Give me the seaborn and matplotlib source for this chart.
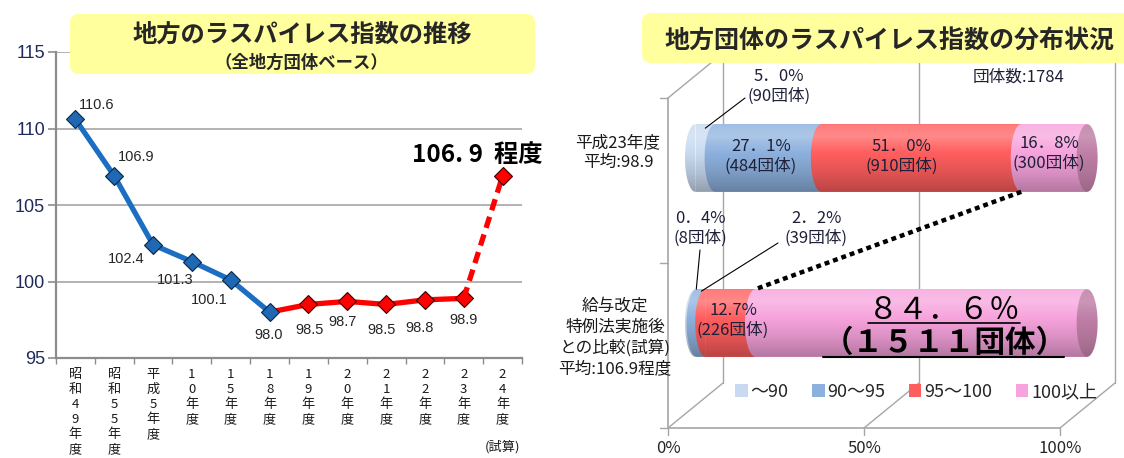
import numpy as np
import matplotlib
matplotlib.use("Agg")
import matplotlib.pyplot as plt
import seaborn as sns
from matplotlib.patches import FancyBboxPatch, Polygon, Ellipse, Patch
from matplotlib.transforms import IdentityTransform

# ---------------- data ----------------
year_ticklabels = ["昭\n和\n4\n9\n年\n度", "昭\n和\n5\n5\n年\n度", "平\n成\n5\n年\n度",
                   "1\n0\n年\n度", "1\n5\n年\n度", "1\n8\n年\n度", "1\n9\n年\n度",
                   "2\n0\n年\n度", "2\n1\n年\n度", "2\n2\n年\n度", "2\n3\n年\n度",
                   "2\n4\n年\n度"]
laspeyres = [110.6, 106.9, 102.4, 101.3, 100.1, 98.0, 98.5, 98.7, 98.5, 98.8, 98.9, 106.9]
y_ticks = [95, 100, 105, 110, 115]

dist_rows = ["平成23年度\n平均:98.9", "給与改定\n特例法実施後\nとの比較(試算)\n平均:106.9程度"]
bands = ["～90", "90～95", "95～100", "100以上"]
share_h23 = [5.0, 27.1, 51.0, 16.8]
count_h23 = [90, 484, 910, 300]
share_after = [0.4, 2.2, 12.7, 84.6]
count_after = [8, 39, 226, 1511]
n_bodies = 1784
axis_pct = [0, 50, 100]

# ---------------- style ----------------
W, H = 1124, 458
sns.set_theme(style="white")
plt.rcParams["font.family"] = ["Noto Sans CJK JP", "DejaVu Sans"]
fig = plt.figure(figsize=(W / 100, H / 100), dpi=100)


def fx(px):
    return px / W


def fy(py):
    return 1 - py / H


BLUE, BLUE_M, RED = "#1B6EC2", "#1F68B3", "#FF0000"
TXT = "#262626"
GRID = "#a6a6a6"

# ================= left chart =================
axL = fig.add_axes([fx(56), fy(358), (522 - 56) / W, (358 - 52) / H])
xs = np.arange(len(laspeyres))
vals = np.array(laspeyres)

sns.lineplot(x=xs[5:11], y=vals[5:11], color=RED, linewidth=3.8, marker="D",
             markersize=9, markerfacecolor=RED, markeredgecolor="#3a0000",
             markeredgewidth=0.8, markevery=[1, 2, 3, 4, 5], ax=axL, zorder=3)
sns.lineplot(x=xs[10:12], y=vals[10:12], color=RED, linewidth=3.8, linestyle="--",
             marker="D", markersize=9, markerfacecolor=RED, markeredgecolor="#3a0000",
             markeredgewidth=0.8, markevery=[1], ax=axL, zorder=3)
axL.lines[-1].set_dashes([2.2, 1.3])
sns.lineplot(x=xs[:6], y=vals[:6], color=BLUE, linewidth=3.8, marker="D",
             markersize=9, markerfacecolor=BLUE_M, markeredgecolor="#0B2645",
             markeredgewidth=0.8, ax=axL, zorder=4)

label_offsets_px = [(21, -14), (22, -19), (-27, 14), (-17, 18), (-21, 20), (-1, 23),
                    (1, 26), (-5, 21), (-5, 26), (-5, 28), (0, 22)]
for i, (dx, dy) in enumerate(label_offsets_px):
    axL.annotate(f"{vals[i]:.1f}", (xs[i], vals[i]), xytext=(dx * 0.72, -dy * 0.72),
                 textcoords="offset points", ha="center", va="center", fontsize=10.5,
                 family="Liberation Sans", color=TXT, zorder=5)
axL.annotate("106. 9  程度", (xs[-1], vals[-1]), xytext=(-25 * 0.72, 21 * 0.72),
             textcoords="offset points", ha="center", va="center", fontsize=17.5,
             weight="bold", color="black", annotation_clip=False, zorder=5)

axL.set_xlim(-0.5, 11.5)
axL.set_ylim(95, 115)
axL.set_yticks(y_ticks)
axL.set_yticklabels([str(t) for t in y_ticks], fontfamily="Liberation Sans",
                    fontsize=13, color="#1F2A5A")
axL.set_xticks(xs)
axL.set_xticklabels(year_ticklabels, fontsize=9.5, va="top", color="#1a1a1a")
axL.set_xticks(np.arange(-0.5, 12, 1), minor=True)
axL.tick_params(axis="x", which="major", length=0, pad=7)
axL.tick_params(axis="x", which="minor", length=4, color="#8c8c8c", width=1,
                direction="out", bottom=True)
axL.tick_params(axis="y", length=6, color="#8c8c8c", width=1.2, pad=2, left=True)
axL.yaxis.grid(True, color=GRID, lw=1.2)
axL.set_axisbelow(True)
for s in ["top", "right"]:
    axL.spines[s].set_visible(False)
for s in ["left", "bottom"]:
    axL.spines[s].set_color("#8c8c8c")
    axL.spines[s].set_linewidth(1.6)
axL.set_xlabel("")
axL.set_ylabel("")
axL.patch.set_alpha(0)
fig.text(fx(503), fy(447), "(試算)", ha="center", va="center", fontsize=9.5, color="#1a1a1a")

# title boxes
fig.add_artist(FancyBboxPatch((70, H - 74), 465, 60, boxstyle="round,pad=0,rounding_size=9",
                              transform=IdentityTransform(), fc="#FFFF9E", ec="none", zorder=10))
fig.text(fx(302), fy(35), "地方のラスパイレス指数の推移", ha="center", va="center",
         fontsize=17.5, weight="bold", zorder=11)
fig.text(fx(301), fy(63), "（全地方団体ベース）", ha="center", va="center",
         fontsize=12.5, weight="bold", zorder=11)
fig.add_artist(FancyBboxPatch((642, H - 63), 520, 50, boxstyle="round,pad=0,rounding_size=9",
                              transform=IdentityTransform(), fc="#FFFF9E", ec="none", zorder=10))
fig.text(fx(889), fy(42), "地方団体のラスパイレス指数の分布状況", ha="center", va="center",
         fontsize=18, weight="bold", zorder=11)

# ================= right chart =================
X0, SX = 695.5, 3.92   # px of 0 %, px per %
Y0, SY = 158.0, 165.0  # px of first row, px per row
axR = fig.add_axes([fx(640), 0, (W - 640) / W, (H - 60) / H])
axR.patch.set_alpha(0)


def rx(px):
    return (px - X0) / SX


def ry(py):
    return (py - Y0) / SY


DX, DY = 27.5 / SX, 22.5 / SY
FRAME = "#a6a6a6"
for v in axis_pct:
    axR.plot([v + DX] * 2, [-0.5 - DY, 1.5 - DY], color=FRAME, lw=1, zorder=1)
    axR.plot([v - DX, v + DX], [1.5 + DY, 1.5 - DY], color=FRAME, lw=1, zorder=1)
    axR.plot([v - DX] * 2, [1.5 + DY, 1.5 + DY + 7 / SY], color=FRAME, lw=1, zorder=1)
    axR.text(v - DX, ry(457), f"{v}%", ha="center", va="bottom", fontsize=12, color=TXT)
axR.plot([-DX] * 2, [-0.5 + DY, 1.5 + DY], color=FRAME, lw=1.2, zorder=1)
axR.plot([-DX, DX], [-0.5 + DY, -0.5 - DY], color=FRAME, lw=1, zorder=1)
axR.plot([-DX, 100 - DX], [1.5 + DY] * 2, color=FRAME, lw=1.2, zorder=1)
for yb in [-0.5, 0.5, 1.5]:
    axR.plot([-DX - 8 / SX, -DX], [yb + DY] * 2, color=FRAME, lw=1, zorder=1)

shares = np.array([share_h23, share_after])
counts = np.array([count_h23, count_after])
cum = shares.cumsum(axis=1)
starts = cum - shares
band_colors = ["#C9DAF0", "#8DB1DE", "#FF5E5E", "#F7A3DD"]
CAP_COLOR = "#BF7FA6"
BAR_W = 0.41

row_y, row_h = None, None
for j in reversed(range(4)):
    n0 = len(axR.patches)
    sns.barplot(x=cum[:, j], y=dist_rows, orient="h", color=band_colors[j], width=BAR_W,
                saturation=1, errorbar=None, ax=axR, zorder=2, linewidth=0)
    if row_y is None:
        new = axR.patches[n0:]
        row_y = [p.get_y() + p.get_height() / 2 for p in new]
        row_h = [p.get_height() for p in new]

CAP = 10.5 / SX


def half_ellipse(cx, cy, a, b, n=60):
    t = np.linspace(np.pi / 2, 3 * np.pi / 2, n)
    return np.column_stack([cx + a * np.cos(t), cy + b * np.sin(t)])


def shade_rgba(n=256, strength=1.0):
    t = np.linspace(0, 1, n)
    L = np.interp(t, [0, 0.18, 0.42, 0.72, 1.0], [0.30, 0.45, 0.0, -0.22, -0.5]) * strength
    rgba = np.zeros((n, 1, 4))
    rgba[:, 0, :3] = np.where(L > 0, 1.0, 0.0)[:, None]
    rgba[:, 0, 3] = np.where(L > 0, L * 0.6, -L * 0.55)
    return rgba


for i in range(2):
    yc, b = row_y[i], row_h[i] / 2
    for j in range(4):
        axR.add_patch(Polygon(half_ellipse(starts[i, j], yc, CAP, b), closed=True,
                              fc=band_colors[j], ec="none", zorder=2.1 + 0.01 * j))
    total = cum[i, -1]
    outline = np.vstack([half_ellipse(0, yc, CAP, b), [[total, yc - b], [total, yc + b]]])
    im = axR.imshow(shade_rgba(), extent=(-CAP, total, yc + b, yc - b), origin="upper",
                    aspect="auto", interpolation="bilinear", zorder=2.5)
    im.set_clip_path(Polygon(outline, closed=True, transform=axR.transData))
    cap = Ellipse((total, yc), 2 * CAP, 2 * b, fc=CAP_COLOR, ec="none", zorder=2.6)
    axR.add_patch(cap)
    im2 = axR.imshow(shade_rgba(strength=0.7), extent=(total - CAP, total + CAP, yc + b, yc - b),
                     origin="upper", aspect="auto", interpolation="bilinear", zorder=2.65)
    im2.set_clip_path(cap)

# dotted connector between the "100以上" segments
axR.plot([starts[0, 3], starts[1, 3]], [row_y[0] + row_h[0] / 2, row_y[1] - row_h[1] / 2],
         color="black", lw=3.2, linestyle=(0, (1.1, 0.9)), zorder=3)


def fw(s):
    return s.translate(str.maketrans("0123456789.%()", "０１２３４５６７８９．％（）"))


LBL = "#1E2038"
# row 0 labels
t0 = [f"{shares[0, j]:.1f}".replace(".", "．") + f"%\n({counts[0, j]}団体)" for j in range(4)]
pos0 = [(779, 86), (761, 156), (902, 156), (1049, 153)]
for j in range(4):
    axR.text(rx(pos0[j][0]), ry(pos0[j][1]), t0[j], ha="center", va="center",
             fontsize=12, color=LBL, zorder=6)
m0 = (starts[0, 0] + cum[0, 0]) / 2
axR.plot([m0, rx(745)], [row_y[0] - row_h[0] / 2 + 4 / SY, ry(98)], color="black", lw=0.8, zorder=6)

# row 1 labels
t1 = [f"{shares[1, j]:.1f}".replace(".", "．") + f"%\n({counts[1, j]}団体)" for j in range(2)]
t1.append(f"{shares[1, 2]:.1f}%\n({counts[1, 2]}団体)")
pos1 = [(700, 228), (816, 228), (733, 320)]
for j in range(3):
    axR.text(rx(pos1[j][0]), ry(pos1[j][1]), t1[j], ha="center", va="center",
             fontsize=12, color=LBL, zorder=6)
top1 = row_y[1] - row_h[1] / 2
axR.plot([rx(700), (starts[1, 0] + cum[1, 0]) / 2], [ry(250), top1], color="black", lw=0.8, zorder=6)
axR.plot([rx(778), (starts[1, 1] + cum[1, 1]) / 2], [ry(243), top1 + 2 / SY], color="black", lw=0.8, zorder=6)

axR.text(rx(944), ry(310), fw(f"{shares[1, 3]:.1f}%"), ha="center", va="center",
         fontsize=22, color="black", zorder=6)
axR.plot([rx(868), rx(1020)], [ry(323)] * 2, color="black", lw=1.2, zorder=6)
axR.text(rx(945), ry(343), "（" + fw(str(counts[1, 3])) + "団体）", ha="center", va="center",
         fontsize=22, weight="bold", color="black", zorder=6)
axR.plot([rx(823), rx(1064)], [ry(357)] * 2, color="black", lw=1.5, zorder=6)

axR.text(rx(1018), ry(77), f"団体数:{n_bodies}", ha="center", va="center", fontsize=12, color=LBL)

# row labels
fig.text(fx(618), fy(153), dist_rows[0], ha="center", va="center", fontsize=12,
         color="#1a1a1a", multialignment="center")
fig.text(fx(615), fy(337.5), dist_rows[1], ha="center", va="center", fontsize=12,
         color="#1a1a1a", multialignment="center", linespacing=1.29)

# legend
handles = [Patch(fc=c, ec="none") for c in band_colors]
axR.legend(handles, bands, ncol=4, loc="center", bbox_to_anchor=(fx(916), fy(392)),
           bbox_transform=fig.transFigure, frameon=False, fontsize=13, handlelength=0.7,
           handleheight=0.7, handletextpad=0.15, columnspacing=1.3)

axR.set_xlim(rx(640), rx(W))
axR.set_ylim(ry(H), ry(60))
axR.set_xticks([])
axR.set_yticks([])
axR.set_xlabel("")
axR.set_ylabel("")
for s in axR.spines.values():
    s.set_visible(False)

fig.savefig("out.png", dpi=100)
